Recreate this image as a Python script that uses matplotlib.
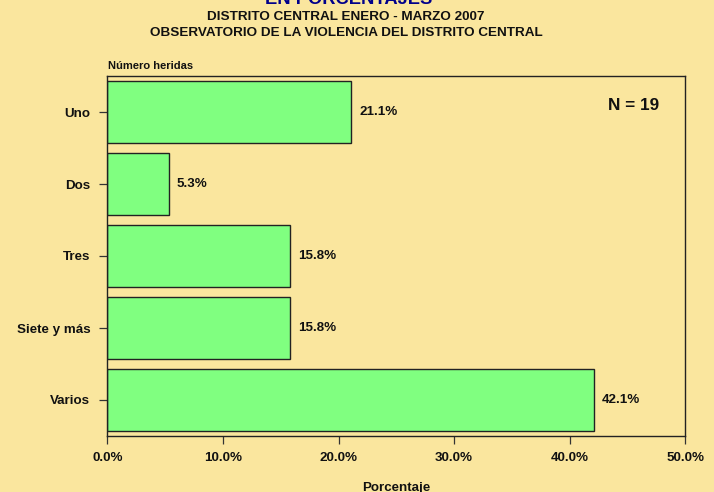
import matplotlib
matplotlib.use('Agg')
import matplotlib.pyplot as plt

plt.rcParams['font.family'] = ['Liberation Sans', 'DejaVu Sans']
plt.rcParams['font.weight'] = 'bold'

# datos
categorias = ['Uno', 'Dos', 'Tres', 'Siete y más', 'Varios']
porcentajes = [21.1, 5.3, 15.8, 15.8, 42.1]
etiquetas = ['21.1%', '5.3%', '15.8%', '15.8%', '42.1%']
xticks = [0, 10, 20, 30, 40, 50]
xtick_labels = ['0.0%', '10.0%', '20.0%', '30.0%', '40.0%', '50.0%']

fondo = '#FAE69E'
W, H = 714, 492

fig = plt.figure(figsize=(W / 100, H / 100), dpi=100, facecolor=fondo)
ax = fig.add_axes([107.3 / W, 1 - 436 / H, (685.3 - 107.3) / W, (436 - 76) / H])
ax.set_facecolor(fondo)

ypos = list(range(len(categorias)))
ax.barh(ypos, porcentajes, height=0.85, color='#80FF80', edgecolor='#222222', linewidth=1.0)

for y, v, t in zip(ypos, porcentajes, etiquetas):
    ax.annotate(t, (v, y), xytext=(8, 0), textcoords='offset pixels',
                va='center', ha='left', fontsize=9.6, fontweight='bold', color='#111111')

ax.set_xlim(0, 50)
ax.set_ylim(4.5, -0.5)
ax.set_xticks(xticks)
ax.set_xticklabels(xtick_labels)
ax.set_yticks(ypos)
ax.set_yticklabels(categorias)
ax.tick_params(axis='both', direction='out', length=5.8, width=0.9, color='#333333',
               labelsize=9.6, labelcolor='#111111')
ax.tick_params(axis='x', pad=6)
ax.tick_params(axis='y', pad=6.5)
for s in ax.spines.values():
    s.set_color('#222222')
    s.set_linewidth(1.0)

ax.text(0.955, 0.917, 'N = 19', transform=ax.transAxes, ha='right', va='center',
        fontsize=12.3, fontweight='bold', color='#111111')

# titulos
fig.text(349 / W, 1 - 3.5 / H, 'EN PORCENTAJES', ha='center', va='baseline',
         fontsize=13.2, fontweight='bold', color='#00008B')
fig.text(346 / W, 1 - 19.5 / H, 'DISTRITO CENTRAL ENERO - MARZO 2007', ha='center',
         va='baseline', fontsize=9.7, fontweight='bold', color='#111111')
fig.text(346 / W, 1 - 35.5 / H, 'OBSERVATORIO DE LA VIOLENCIA DEL DISTRITO CENTRAL',
         ha='center', va='baseline', fontsize=9.7, fontweight='bold', color='#111111')
fig.text(107.7 / W, 1 - 69.3 / H, 'Número heridas', ha='left', va='baseline',
         fontsize=8, fontweight='bold', color='#111111')
fig.text(396 / W, 1 - 490.5 / H, 'Porcentaje', ha='center', va='baseline',
         fontsize=9.6, fontweight='bold', color='#111111')

fig.savefig('out.png', dpi=100, facecolor=fondo)
